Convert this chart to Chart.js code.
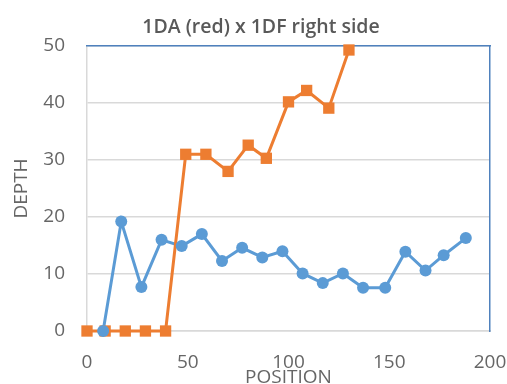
<!DOCTYPE html>
<html>
<head>
<meta charset="utf-8">
<script src="https://cdn.jsdelivr.net/npm/chart.js@4/dist/chart.umd.min.js"></script>
<style>
  html, body { margin: 0; padding: 0; background: #ffffff; }
  #wrap { width: 507px; height: 384px; }
</style>
</head>
<body>
<div id="wrap"><canvas id="c" width="507" height="384"></canvas></div>
<script>
// 1DA series (orange squares)
const daPosition = [0, 9, 19, 29, 39, 49, 59, 70, 80, 89, 100, 109, 120, 130];
const daDepth    = [0, 0, 0, 0, 0, 31, 31, 28, 32.6, 30.3, 40.2, 42.2, 39.1, 49.3];

// 1DF series (blue circles)
const dfPosition = [8, 17, 27, 37, 47, 57, 67, 77, 87, 97, 107, 117, 127, 137, 148, 158, 168, 177, 188];
const dfDepth    = [0, 19.2, 7.7, 16, 14.9, 17, 12.3, 14.6, 12.9, 14, 10.1, 8.4, 10.1, 7.6, 7.6, 13.9, 10.6, 13.3, 16.3];

// Axis ranges
const xRange = [0, 200];
const xStep = 50;
const yRange = [0, 50];
const yStep = 10;

const ORANGE = '#ed7d31';
const BLUE = '#5b9bd5';
const FRAME = '#4f81bd';
const TEXT = '#595959';
const TICK = '#666666';
const GRID = '#d9d9d9';
const FONT = '"Open Sans", Lato, sans-serif';

const toPoints = (xs, ys) => xs.map((x, i) => ({ x: x, y: ys[i] }));
const daPts = toPoints(daPosition, daDepth);
const dfPts = toPoints(dfPosition, dfDepth);

new Chart(document.getElementById('c'), {
  type: 'scatter',
  data: {
    datasets: [
      { // blue markers on top
        data: dfPts, xAxisID: 'x', yAxisID: 'y', order: 0, showLine: false,
        pointStyle: 'circle', pointRadius: 6, pointBackgroundColor: BLUE, pointBorderColor: BLUE,
        pointBorderWidth: 0, clip: false
      },
      { // orange markers
        data: daPts, xAxisID: 'x', yAxisID: 'y', order: 1, showLine: false,
        pointStyle: 'rect', pointRadius: 8, pointBackgroundColor: ORANGE, pointBorderColor: ORANGE,
        pointBorderWidth: 0, clip: false
      },
      { // orange line
        data: daPts, xAxisID: 'x', yAxisID: 'y', order: 2, showLine: true,
        borderColor: ORANGE, borderWidth: 3, pointRadius: 0, tension: 0, clip: false
      },
      { // blue line
        data: dfPts, xAxisID: 'x', yAxisID: 'y', order: 3, showLine: true,
        borderColor: BLUE, borderWidth: 3, pointRadius: 0, tension: 0, clip: false
      }
    ]
  },
  options: {
    responsive: false,
    animation: false,
    events: [],
    layout: { padding: { left: 15, right: 0, top: 0, bottom: 0 } },
    plugins: {
      legend: { display: false },
      tooltip: { enabled: false },
      title: {
        display: true,
        text: '1DA (red) x 1DF right side',
        color: TEXT,
        font: { family: FONT, size: 19.5, weight: 600 },
        padding: { top: 16, bottom: 6.6 }
      }
    },
    scales: {
      x: {
        type: 'linear',
        position: 'bottom',
        min: xRange[0], max: xRange[1],
        ticks: { stepSize: xStep, color: TICK, font: { family: FONT, size: 19 }, padding: 20, maxRotation: 0 },
        grid: { display: false, drawTicks: false },
        border: { display: true, color: GRID, width: 1.5 },
        title: {
          display: true, text: 'POSITION', color: TICK,
          font: { family: FONT, size: 19 }, padding: { top: 0, bottom: -5 }
        },
        afterFit: (s) => { s.height = 53; s.paddingLeft = 0; s.paddingRight = 0; }
      },
      y: {
        type: 'linear',
        position: 'left',
        min: yRange[0], max: yRange[1],
        ticks: { stepSize: yStep, color: TICK, font: { family: FONT, size: 19 }, padding: 22 },
        grid: { color: GRID, lineWidth: 1.5, drawTicks: false },
        border: { display: true, color: GRID, width: 1.5 },
        title: {
          display: true, text: 'DEPTH', color: TICK,
          font: { family: FONT, size: 19 }, padding: { top: -5, bottom: 0 }
        },
        afterFit: (s) => { s.width = 72; s.paddingTop = 0; s.paddingBottom = 0; }
      },
      xTop: {
        type: 'linear',
        position: 'top',
        min: xRange[0], max: xRange[1],
        ticks: { display: false },
        grid: { display: true, drawOnChartArea: false, drawTicks: false },
        border: { display: true, color: FRAME, width: 1.5 },
        afterFit: (s) => { s.height = 0; s.paddingLeft = 0; s.paddingRight = 0; }
      },
      yRight: {
        type: 'linear',
        position: 'right',
        min: yRange[0], max: yRange[1],
        ticks: { display: false },
        grid: { display: true, drawOnChartArea: false, drawTicks: false },
        border: { display: true, color: FRAME, width: 1.5 },
        afterFit: (s) => { s.width = 17; s.paddingTop = 0; s.paddingBottom = 0; }
      }
    }
  }
});
</script>
</body>
</html>
